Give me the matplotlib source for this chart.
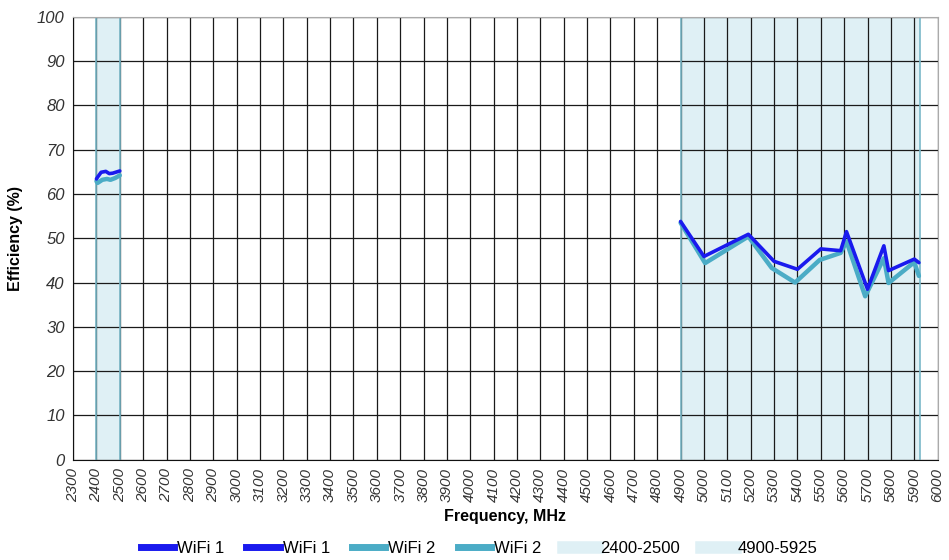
import matplotlib
matplotlib.use("Agg")
import matplotlib.pyplot as plt
from matplotlib.lines import Line2D

plt.rcParams['font.family'] = ['Liberation Sans', 'DejaVu Sans']

# Data
wifi1_24_f = [2400, 2405, 2420, 2440, 2455, 2470, 2500]
wifi1_24_e = [63.4, 63.8, 64.9, 65.1, 64.6, 64.7, 65.2]
wifi2_24_f = [2400, 2405, 2425, 2445, 2460, 2480, 2500]
wifi2_24_e = [62.9, 62.5, 63.2, 63.4, 63.2, 63.6, 64.2]

wifi1_5_f = [4900, 5000, 5190, 5300, 5400, 5500, 5585, 5610, 5700, 5770, 5790, 5900, 5920]
wifi1_5_e = [53.8, 45.9, 50.9, 44.8, 43.0, 47.6, 47.2, 51.5, 38.5, 48.3, 42.7, 45.3, 44.5]
wifi2_5_f = [4900, 5005, 5190, 5290, 5390, 5495, 5585, 5610, 5690, 5770, 5790, 5900, 5920]
wifi2_5_e = [53.5, 44.4, 50.4, 43.3, 40.0, 45.1, 46.7, 49.3, 36.9, 45.5, 39.9, 44.6, 41.5]

bands = [(2400, 2500), (4900, 5925)]
band_labels = ['2400-2500', '4900-5925']

x_ticks = list(range(2300, 6001, 100))
y_ticks = list(range(0, 101, 10))

c1 = '#1a1aee'
c2 = '#4bacc6'
shade = '#dff0f5'
edge = '#7ab8c8'

fig = plt.figure(figsize=(9.49, 5.6), dpi=100)
ax = fig.add_axes([0.077, 0.179, 0.911, 0.791])

for (a, b) in bands:
    ax.axvspan(a, b, color=shade, zorder=0, lw=0)
    ax.axvline(a, color=edge, lw=1.2, zorder=2)
    ax.axvline(b, color=edge, lw=1.2, zorder=2)

ax.set_xlim(2300, 6000)
ax.set_ylim(0, 100)
ax.set_xticks(x_ticks)
ax.set_yticks(y_ticks)
ax.grid(True, color='#1a1a1a', lw=0.9, zorder=1)
ax.set_axisbelow(True)

kw = dict(solid_joinstyle='round', solid_capstyle='round')
ax.plot(wifi2_24_f, wifi2_24_e, color=c2, lw=3.2, zorder=3, **kw)
ax.plot(wifi2_5_f, wifi2_5_e, color=c2, lw=3.2, zorder=3, **kw)
ax.plot(wifi1_24_f, wifi1_24_e, color=c1, lw=2.6, zorder=4, **kw)
ax.plot(wifi1_5_f, wifi1_5_e, color=c1, lw=2.6, zorder=4, **kw)

ax.set_xticklabels([str(v) for v in x_ticks], rotation=90, fontsize=11,
                   style='italic', color='#333333')
ax.set_yticklabels([str(v) for v in y_ticks], fontsize=12, style='italic',
                   color='#333333')
ax.tick_params(length=0, pad=6)

for s in ['left', 'bottom']:
    ax.spines[s].set_color('#111111')
for s in ['top', 'right']:
    ax.spines[s].set_color('#aaaaaa')

ax.set_xlabel('Frequency, MHz', fontsize=11.5, fontweight='bold', labelpad=5)
ax.set_ylabel('Efficiency (%)', fontsize=11.5, fontweight='bold', labelpad=10)

handles = [Line2D([], [], color=c1, lw=5),
           Line2D([], [], color=c1, lw=5),
           Line2D([], [], color=c2, lw=5),
           Line2D([], [], color=c2, lw=5),
           Line2D([], [], color=shade, lw=9),
           Line2D([], [], color=shade, lw=9)]
labels = ['WiFi 1', 'WiFi 1', 'WiFi 2', 'WiFi 2'] + band_labels
fig.legend(handles, labels, loc='lower center', bbox_to_anchor=(0.505, -0.02),
           ncol=6, frameon=False, prop={'size': 12},
           handlelength=2.0, handletextpad=0.2, columnspacing=1.3)

fig.savefig('out.png', dpi=100)
